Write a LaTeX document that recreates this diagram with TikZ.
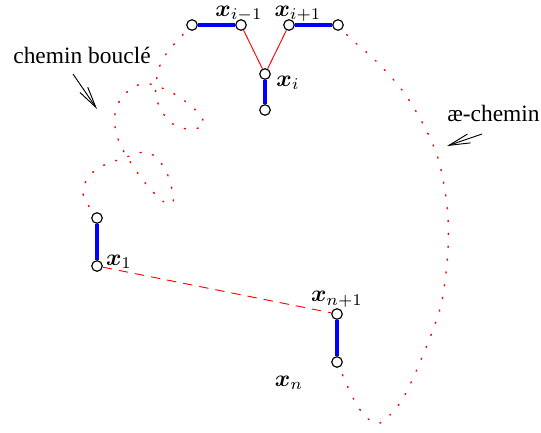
\documentclass[tikz,border=0pt]{standalone}
\usepackage{amsmath}
\usepackage{fontspec}
\setmainfont{Liberation Serif}
\usetikzlibrary{arrows.meta,positioning,backgrounds}

\begin{document}
\begin{tikzpicture}[x=0.015cm, y=-0.015cm, >={Straight Barb[length=9pt, width=4pt]}, every node/.style={font=\normalsize}, vtx/.style={draw, circle, fill=white, inner sep=0pt, minimum size=4.5pt, line width=0.5pt}, seg/.style={blue, line width=1.8pt}, link/.style={red, line width=0.4pt}, gap/.style={red, line width=0.4pt, dash pattern=on 4pt off 3pt}, walk/.style={red, line width=0.6pt, dash pattern=on 0.5pt off 5pt, line cap=round}]
\useasboundingbox (0,0) rectangle (541,432);
% vertices
\node[vtx] (a) at (192,25) {};
\node[vtx] (xim) at (241,25) {};
\node[vtx] (xip) at (289,25) {};
\node[vtx] (d) at (338,25) {};
\node[vtx] (xi) at (265,74) {};
\node[vtx] (f) at (265,110) {};
\node[vtx] (g) at (97,218) {};
\node[vtx] (x1) at (97,266) {};
\node[vtx] (xnp) at (337,314) {};
\node[vtx] (xn) at (337,362) {};
% labels
\node (lxim) at (239,14) {$\boldsymbol{x}_{i-1}$};
\node (lxip) at (298,14) {$\boldsymbol{x}_{i+1}$};
\node (lxi) at (288,83) {$\boldsymbol{x}_i$};
\node (lx1) at (119,262) {$\boldsymbol{x}_1$};
\node (lxnp) at (337,299) {$\boldsymbol{x}_{n+1}$};
\node (lxn) at (289,383) {$\boldsymbol{x}_n$};
\node (loop) at (82,55) {chemin bouclé};
\node[anchor=west] (ae) at (439,113) {æ-chemin};
\coordinate (loopA) at (73,74); \coordinate (loopB) at (97,109);
\coordinate (aeA) at (482,134); \coordinate (aeB) at (447,146);
\draw[->] (loopA) -- (loopB); \draw[->] (aeA) -- (aeB);
% paths
\begin{scope}[on background layer]
\draw[seg] (a) -- (xim); \draw[seg] (xip) -- (d); \draw[seg] (xi) -- (f); \draw[seg] (g) -- (x1); \draw[seg] (xnp) -- (xn);
\draw[link] (xim) -- (xi); \draw[link] (xip) -- (xi);
\draw[gap] (x1) -- (xnp);
\draw[walk] plot[smooth] coordinates {(a) (178,40) (166,54) (159,68) (156,84) (156,97) (161,110) (170,122) (182,128) (194,129) (204,125) (200,115) (190,105) (176,95) (162,88) (150,84) (138,85) (127,92) (119,102) (115,114) (115,127) (118,139) (123,150) (129,160) (137,172) (146,184) (155,194) (164,202) (173,203) (172,190) (169,178) (163,166) (156,157) (146,152) (135,154) (124,158) (112,162) (100,167) (90,175) (84,186) (84,198) (g)};
\draw[walk] plot[smooth] coordinates {(d) (350,38) (376,61) (402,90) (422,122) (438,158) (447,205) (448,250) (441,305) (423,355) (402,400) (380,423) (365,416) (352,396) (xn)};
\end{scope}
\end{tikzpicture}
\end{document}
